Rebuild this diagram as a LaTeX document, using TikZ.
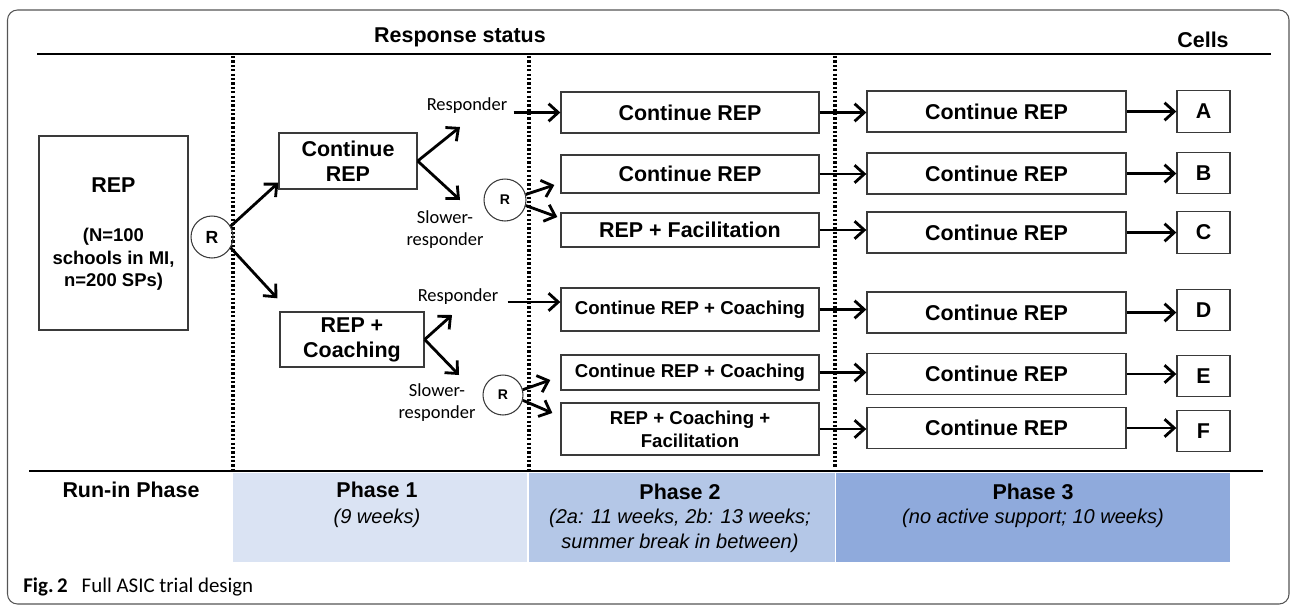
\documentclass[tikz,border=0pt]{standalone}
\usepackage{fontspec}
\setmainfont{Liberation Sans}
\newfontfamily\calibfont{Carlito}
\usetikzlibrary{arrows.meta}

\definecolor{phaseone}{HTML}{DAE3F3}
\definecolor{phasetwo}{HTML}{B4C7E7}
\definecolor{phasethree}{HTML}{8FAADC}
\definecolor{boxline}{HTML}{3A3A3A}
\definecolor{framegray}{HTML}{555555}

\tikzset{
  box/.style={draw=boxline, line width=0.8pt, inner sep=0pt, align=center,
    font=\bfseries\fontsize{12.2}{14.2}\selectfont},
  smallbox/.style={box, font=\bfseries\fontsize{10.6}{13}\selectfont},
  rnd/.style={circle, draw=boxline, line width=0.6pt, inner sep=0pt,
    font=\bfseries\fontsize{8}{9}\selectfont},
  lbl/.style={align=center, inner sep=0pt, font=\calibfont\fontsize{10.5}{12.2}\selectfont},
  arr/.style={line width=1.6pt, -{Straight Barb[length=5.5pt,width=10pt]}},
  phaseline/.style={line width=1.8pt, dash pattern=on 1.3pt off 1.2pt},
  head/.style={anchor=base, inner sep=0pt, font=\bfseries\fontsize{12.2}{14}\selectfont},
  note/.style={anchor=base, inner sep=0pt, font=\itshape\fontsize{11.4}{13}\selectfont},
}

\begin{document}
\begin{tikzpicture}[x=0.02cm, y=-0.02cm]
  \useasboundingbox (0,0) rectangle (1290,605);
  \clip (0,0) rectangle (1290,605);
  \draw[framegray, line width=0.6pt, rounded corners=0.2cm] (7.5,10) rectangle (1289,604);

  % phase bands
  \fill[phaseone] (233,473) rectangle (527,562);
  \fill[phasetwo] (528.5,473) rectangle (835,562);
  \fill[phasethree] (836,473) rectangle (1230,562);

  \draw[line width=1.1pt] (37,54) -- (1271,54);
  \draw[line width=1.1pt] (29,471) -- (1263,471);
  \draw[phaseline] (233,56) -- (233,471);
  \draw[phaseline] (529,56) -- (529,471);
  \draw[phaseline] (835,56) -- (835,468);

  \node[head] (status) at (460,42) {Response status};
  \node[head] (cells) at (1203,47) {Cells};

  % run-in
  \node[box, minimum width=2.98cm, minimum height=3.88cm] (rep) at (113.5,233) {};
  \node[head, anchor=center] (reptitle) at (113.5,185) {REP};
  \node[align=center, inner sep=0pt, font=\bfseries\fontsize{10.5}{12.75}\selectfont]
    (repsize) at (113.5,259.5) {(N=100\\schools in MI,\\n=200 SPs)};
  \node[rnd, minimum size=0.84cm, font=\bfseries\fontsize{10}{12}\selectfont] (r0) at (212,237) {R};

  % phase 1
  \node[box, minimum width=2.76cm, minimum height=1.12cm] (cont1) at (348,161) {Continue\\REP};
  \node[box, minimum width=2.88cm, minimum height=1.1cm] (coach1) at (352,339.5) {REP +\\Coaching};
  \node[lbl] (resp1) at (467,106) {Responder};
  \node[lbl] (slow1) at (445,229.5) {Slower-\\responder};
  \node[lbl] (resp2) at (458,297) {Responder};
  \node[lbl] (slow2) at (437,402.5) {Slower-\\responder};
  \node[rnd, minimum size=0.84cm] (r1) at (505,200) {R};
  \node[rnd, minimum size=0.8cm] (r2) at (503,395) {R};

  \coordinate (up1) at (460,127);
  \coordinate (dn1) at (460,200);
  \coordinate (up2) at (452,315);
  \coordinate (dn2) at (459,375);
  \draw[arr] (r0.30) -- ([yshift=0.14cm]cont1.south west);
  \draw[arr] (r0.-30) -- ([shift={(-0.04cm,0.26cm)}]coach1.north west);
  \draw[arr] (cont1.east) -- (up1);
  \draw[arr] (cont1.east) -- (dn1);
  \draw[arr] (coach1.east) -- (up2);
  \draw[arr] (coach1.east) -- (dn2);

  % phase 2
  \node[box, minimum width=5.16cm, minimum height=0.82cm] (p2a) at (690,112.5) {Continue REP};
  \node[box, minimum width=5.16cm, minimum height=0.76cm] (p2b) at (690,174) {Continue REP};
  \node[box, minimum width=5.16cm, minimum height=0.68cm] (p2c) at (690,230) {REP + Facilitation};
  \node[smallbox, minimum width=5.16cm, minimum height=0.86cm] (p2d) at (690,309.5) {Continue REP + Coaching};
  \node[smallbox, minimum width=5.16cm, minimum height=0.70cm] (p2e) at (690,372.5) {Continue REP + Coaching};
  \node[smallbox, minimum width=5.16cm, minimum height=1.04cm] (p2f) at (690,429) {REP + Coaching +\\Facilitation};

  \coordinate (din) at ([yshift=0.15cm]p2d.west);
  \draw[arr] ([xshift=0.12cm]resp1.east |- p2a.west) -- (p2a.west);
  \draw[arr] ([xshift=0.18cm]resp2.east |- din) -- (din);
  \draw[arr] (r1.15) -- ([shift={(-0.12cm,-0.22cm)}]p2b.west);
  \draw[arr] (r1.-15) -- ([shift={(-0.06cm,0.26cm)}]p2c.west);
  \draw[arr] (r2.15) -- ([shift={(-0.2cm,-0.15cm)}]p2e.west);
  \draw[arr] (r2.-15) -- ([shift={(-0.16cm,0.32cm)}]p2f.west);

  % phase 3 and cells
  \foreach \n/\y in {a/111.5, b/173.5, c/232.5, d/312.5, e/374, f/428}
    \node[box, minimum width=5.18cm, minimum height=0.82cm] (p3\n) at (996.5,\y) {Continue REP};
  \foreach \n/\y/\t in {a/111.5/A, b/173/B, c/232.5/C, d/310/D, e/376/E, f/431/F}
    \node[box, minimum width=1.06cm, minimum height=0.83cm] (cell\n) at (1203.5,\y) {\t};
  \foreach \n in {a,b,c,d,e,f} {
    \draw[arr] (p2\n.east) -- (p2\n.east -| p3\n.west);
    \draw[arr] (p3\n.east) -- (p3\n.east -| cell\n.west);
  }

  % phase labels
  \node[head] (runin) at (131,497) {Run-in Phase};
  \node[head] (ph1) at (377,497.5) {Phase 1};
  \node[note] (ph1n) at (377,523) {(9 weeks)};
  \node[head] (ph2) at (680,499.5) {Phase 2};
  \node[note] (ph2n) at (680,523) {(2a: 11 weeks, 2b: 13 weeks;};
  \node[note] (ph2m) at (680,548) {summer break in between)};
  \node[head] (ph3) at (1033,499.5) {Phase 3};
  \node[note] (ph3n) at (1033,523) {(no active support; 10 weeks)};

  \node[anchor=base west, inner sep=0pt, font=\calibfont\fontsize{11.9}{14}\selectfont]
    (caption) at (23,592) {\textbf{Fig.\,2}\hspace{8pt}Full ASIC trial design};
\end{tikzpicture}
\end{document}
